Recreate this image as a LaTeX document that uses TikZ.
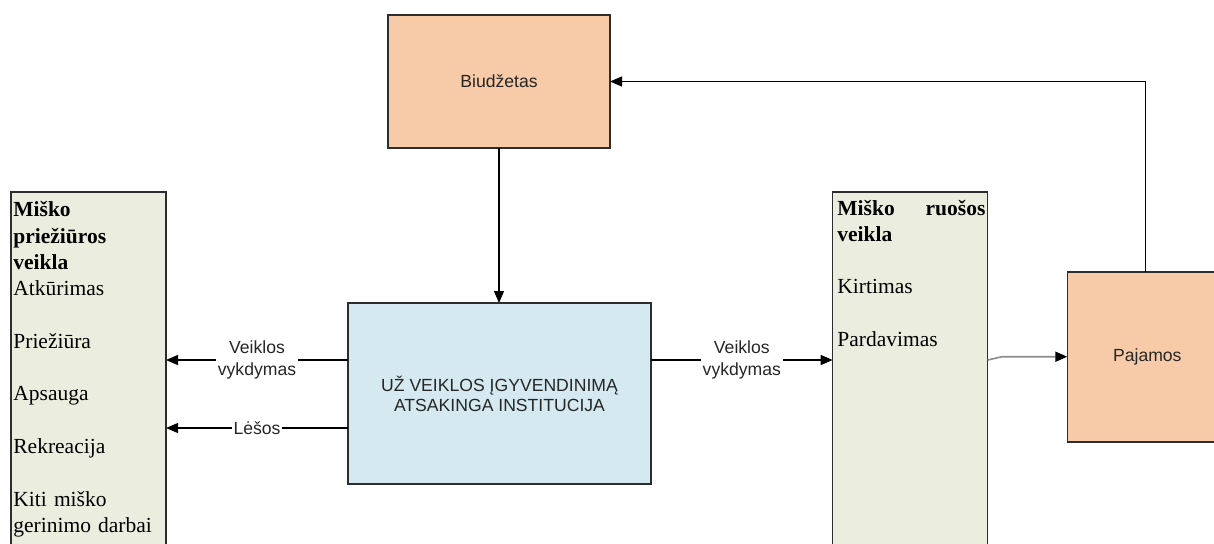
\documentclass[tikz,border=0pt]{standalone}
\usepackage{fontspec}
\setmainfont{Liberation Serif}
\setsansfont{Liberation Sans}
\usetikzlibrary{arrows.meta,calc}
\definecolor{orangefill}{RGB}{248,203,168}
\definecolor{greenfill}{RGB}{235,238,222}
\definecolor{bluefill}{RGB}{212,233,240}
\definecolor{edgecol}{RGB}{45,45,45}
\definecolor{greyline}{RGB}{140,140,140}
\begin{document}
\begin{tikzpicture}[x=0.5pt,y=-0.5pt,
  box/.style={draw=edgecol,line width=0.6pt,inner sep=0pt,outer sep=0pt,
    font=\sffamily\fontsize{8.8pt}{10pt}\selectfont,align=center,text=black!85},
  orangebox/.style={box,fill=orangefill},
  greenbox/.style={box,fill=greenfill},
  bluebox/.style={box,fill=bluefill},
  lbl/.style={font=\sffamily\fontsize{8.8pt}{11pt}\selectfont,fill=white,inner sep=1pt,align=center,text=black!85},
  conn/.style={line width=0.6pt,-{Triangle[length=6pt,width=5pt]}},
  greyconn/.style={line width=0.8pt,draw=greyline,-{Triangle[length=6pt,width=5pt,color=black]}},
  listtext/.style={font=\fontsize{10.75pt}{13.15pt}\selectfont,align=left,text width=74pt,inner sep=0pt,anchor=base west}
]
\useasboundingbox (0,0) rectangle (1214,543);

% boxes
\node[orangebox,minimum width=111pt,minimum height=66.5pt] (bud) at (499,81.5) {Biudžetas};
\node[bluebox,minimum width=151.5pt,minimum height=90.5pt] (cbox) at (499.5,393.5)
  {UŽ VEIKLOS ĮGYVENDINIMĄ\\ATSAKINGA INSTITUCIJA};
\node[greenbox,minimum width=77.5pt,minimum height=204pt] (lbox) at (88.5,396) {};
\node[greenbox,minimum width=77.5pt,minimum height=204pt] (rbox) at (910.2,396) {};
\node[orangebox,minimum width=80pt,minimum height=85pt] (paj) at (1147.3,357) {Pajamos};

% box texts
\node[listtext] (ltext) at (13,216.7)
  {\textbf{Miško}\\\textbf{priežiūros}\\\textbf{veikla}\\Atkūrimas\\[13.15pt]Priežiūra\\[13.15pt]Apsauga\\[13.15pt]Rekreacija\\[13.15pt]Kiti miško\\gerinimo darbai};
\node[listtext] (rtext) at (837,215)
  {\textbf{Miško}\hfill\textbf{ruošos}\\\textbf{veikla}\\[13.15pt]Kirtimas\\[13.15pt]Pardavimas};

% helper levels
\coordinate (y1) at (0,360);
\coordinate (y2) at (0,428);
\coordinate (bend) at (1002,356.7);

% connectors
\draw[conn] (bud.south) -- (bud.south |- cbox.north);
\draw[conn] (paj.north -| 1145.7,0) |- (bud.east);
\draw[conn] (cbox.west |- y1) -- node[lbl] (l1) {Veiklos\\vykdymas} (lbox.east |- y1);
\draw[conn] (cbox.west |- y2) -- node[lbl] (l2) {Lėšos} (lbox.east |- y2);
\draw[conn] (cbox.east |- y1) -- node[lbl] (l3) {Veiklos\\vykdymas} (rbox.west |- y1);
\draw[greyconn] (rbox.east |- y1) -- (bend) -- (paj.west |- bend);
\end{tikzpicture}
\end{document}
